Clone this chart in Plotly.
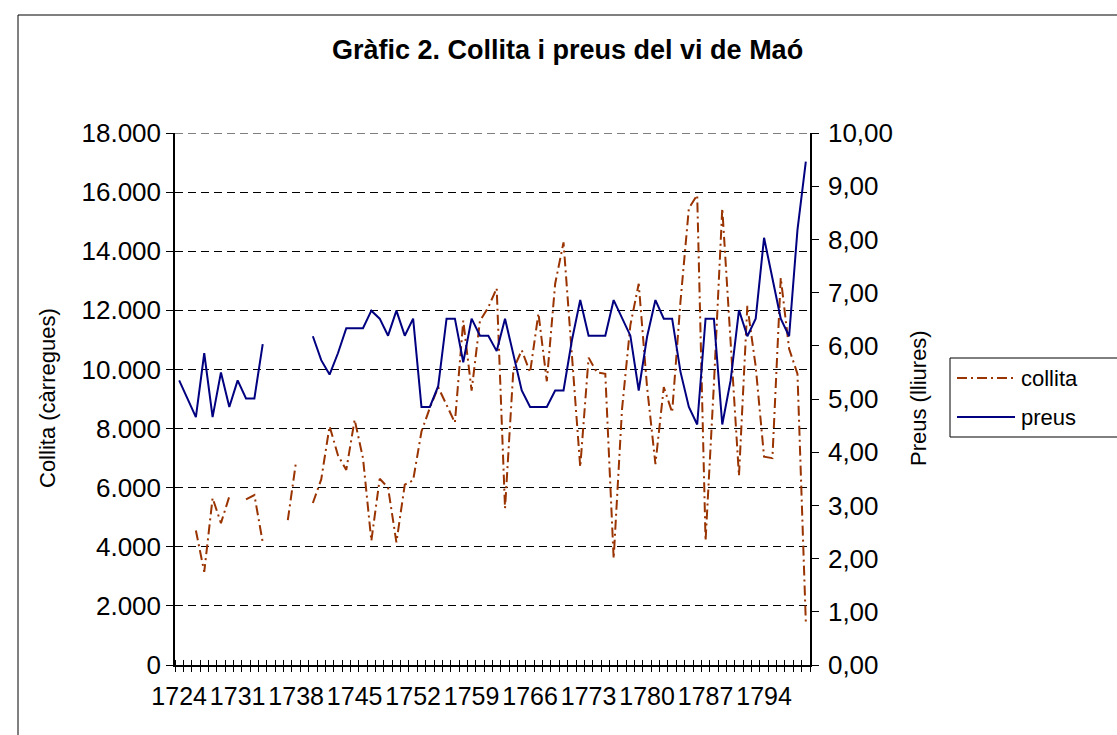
import plotly.graph_objects as go

# ---------------- data ----------------
years = list(range(1724, 1800))

collita = [
    None, None, 4550, 3150, 5650, 4800, 5700, None, 5600, 5750,   # 1724-1733
    4150, None, None, 4900, 6900, None, 5480, 6280, 8080, 7100,   # 1734-1743
    6600, 8300, 7000, 4200, 6300, 6000, 4150, 6100, 6250, 7900,   # 1744-1753
    8700, 9400, 8800, 8200, 11650, 9280, 11650, 12100, 12750, 5300,  # 1754-1763
    10000, 10650, 9900, 11900, 9600, 12900, 14300, 10500, 6700, 10400,  # 1764-1773
    9900, 9850, 3600, 8650, 11500, 12900, 9400, 6800, 9400, 8550,  # 1774-1783
    12300, 15450, 15900, 4200, 9500, 15450, 11000, 6400, 12150, 10100,  # 1784-1793
    7050, 7000, 13100, 10700, 9850, 1450,                          # 1794-1799
]

preus = [
    5.35, 5.00, 4.66, 5.86, 4.66, 5.50, 4.85, 5.35, 5.01, 5.01,   # 1724-1733
    6.03, None, None, None, None, None, 6.18, 5.73, 5.46, 5.86,   # 1734-1743
    6.33, 6.33, 6.33, 6.66, 6.51, 6.19, 6.66, 6.19, 6.51, 4.85,   # 1744-1753
    4.85, 5.24, 6.51, 6.51, 5.69, 6.51, 6.19, 6.19, 5.90, 6.51,   # 1754-1763
    5.84, 5.16, 4.85, 4.85, 4.85, 5.16, 5.16, 6.10, 6.86, 6.19,   # 1764-1773
    6.19, 6.19, 6.86, 6.52, 6.19, 5.16, 6.17, 6.86, 6.51, 6.51,   # 1774-1783
    5.51, 4.85, 4.52, 6.51, 6.51, 4.52, 5.35, 6.67, 6.18, 6.51,   # 1784-1793
    8.03, 7.27, 6.51, 6.18, 8.18, 9.46,                           # 1794-1799
]

year_labels = [1724, 1731, 1738, 1745, 1752, 1759, 1766, 1773, 1780, 1787, 1794]

title_text = "Gràfic 2. Collita i preus del vi de Maó"
left_title = "Collita (càrregues)"
right_title = "Preus (lliures)"

# ---------------- styles ----------------
FONT = "Liberation Sans, Arial, sans-serif"
BROWN = "#993300"
NAVY = "#000080"
DASHDOT = "10px,4px,2px,4px"
GRIDDASH = "8px,5px"

W, H = 1117, 735
ML, MR, MT, MB = 175, 307, 133, 70
PW, PH = W - ML - MR, H - MT - MB

Y_MAX = 18000
Y2_MAX = 10


def px(x):
    return (x - ML) / PW


def py(y):
    return (H - MB - y) / PH


fig = go.Figure()
fig.add_trace(go.Scatter(
    x=years, y=collita, name="collita", mode="lines",
    line=dict(color=BROWN, width=2, dash=DASHDOT),
    xaxis="x", yaxis="y", showlegend=False,
))
fig.add_trace(go.Scatter(
    x=years, y=preus, name="preus", mode="lines",
    line=dict(color=NAVY, width=2),
    xaxis="x2", yaxis="y2", showlegend=False,
))

bounds = [y - 0.5 for y in years] + [years[-1] + 0.5]
xrange_ = [bounds[0], bounds[-1]]

fig.update_layout(
    width=W, height=H,
    margin=dict(l=ML, r=MR, t=MT, b=MB, autoexpand=False),
    paper_bgcolor="white", plot_bgcolor="white",
    separators=",.",
    font=dict(family=FONT, color="black", size=22),
    xaxis=dict(
        range=xrange_,
        tickmode="array", tickvals=year_labels, ticktext=[str(v) for v in year_labels],
        tickangle=0, ticks="", ticklabelstandoff=8,
        tickfont=dict(size=25),
        showline=True, linecolor="black", linewidth=1.5,
        showgrid=False, zeroline=False,
        minor=dict(tickmode="array", tickvals=bounds, ticks="outside",
                   ticklen=5, tickwidth=1, tickcolor="black", showgrid=False),
    ),
    xaxis2=dict(
        overlaying="x", anchor="y2", side="bottom",
        range=xrange_,
        showticklabels=False, ticks="", showline=False, showgrid=False, zeroline=False,
        minor=dict(tickmode="array", tickvals=bounds, ticks="inside",
                   ticklen=5, tickwidth=1, tickcolor="black", showgrid=False),
    ),
    yaxis=dict(
        range=[0, Y_MAX], tickmode="linear", tick0=0, dtick=2000,
        tickformat=",d", ticks="outside", ticklen=7, tickcolor="black",
        tickfont=dict(size=26),
        showline=True, linecolor="black", linewidth=1.5,
        showgrid=True, gridcolor="black", gridwidth=1, griddash=GRIDDASH,
        zeroline=False,
    ),
    yaxis2=dict(
        range=[0, Y2_MAX], tickmode="linear", tick0=0, dtick=1,
        tickformat=".2f", ticks="outside", ticklen=7, tickcolor="black",
        tickfont=dict(size=26), ticklabelstandoff=4,
        overlaying="y", side="right", anchor="x2",
        showline=True, linecolor="black", linewidth=1.5,
        showgrid=False, zeroline=False,
    ),
)

shapes = [
    # chart-area border (clipped at right/bottom edges as in the reference)
    dict(type="rect", xref="paper", yref="paper",
         x0=px(18), x1=px(1135), y0=py(15), y1=py(760),
         line=dict(color="black", width=1), fillcolor="rgba(0,0,0,0)", layer="below"),
    # top gridline of the value axis (at the axis maximum)
    dict(type="line", xref="paper", yref="y", x0=0, x1=1, y0=Y_MAX, y1=Y_MAX,
         line=dict(color="black", width=1, dash=GRIDDASH), layer="below"),
    # legend box
    dict(type="rect", xref="paper", yref="paper",
         x0=px(950), x1=px(1135), y0=py(358), y1=py(437),
         line=dict(color="black", width=1), fillcolor="white"),
    dict(type="line", xref="paper", yref="paper",
         x0=px(957), x1=px(1015), y0=py(378), y1=py(378),
         line=dict(color=BROWN, width=2, dash=DASHDOT)),
    dict(type="line", xref="paper", yref="paper",
         x0=px(957), x1=px(1015), y0=py(417), y1=py(417),
         line=dict(color=NAVY, width=2)),
]

annotations = [
    dict(text="<b>" + title_text + "</b>", xref="paper", yref="paper",
         x=px(567), y=py(50), showarrow=False, font=dict(size=27),
         xanchor="center", yanchor="middle"),
    dict(text=left_title, xref="paper", yref="paper",
         x=px(47), y=py(398), showarrow=False, textangle=-90,
         font=dict(size=22), xanchor="center", yanchor="middle"),
    dict(text=right_title, xref="paper", yref="paper",
         x=px(918), y=py(398), showarrow=False, textangle=-90,
         font=dict(size=22), xanchor="center", yanchor="middle"),
    dict(text="collita", xref="paper", yref="paper",
         x=px(1019), y=py(378), showarrow=False,
         font=dict(size=22), xanchor="left", yanchor="middle"),
    dict(text="preus", xref="paper", yref="paper",
         x=px(1019), y=py(417), showarrow=False,
         font=dict(size=22), xanchor="left", yanchor="middle"),
]

fig.update_layout(shapes=shapes, annotations=annotations)
fig.write_html("out.html",
               config={"displayModeBar": False},
               post_script="document.body.style.margin='0';document.body.style.overflow='hidden';")
